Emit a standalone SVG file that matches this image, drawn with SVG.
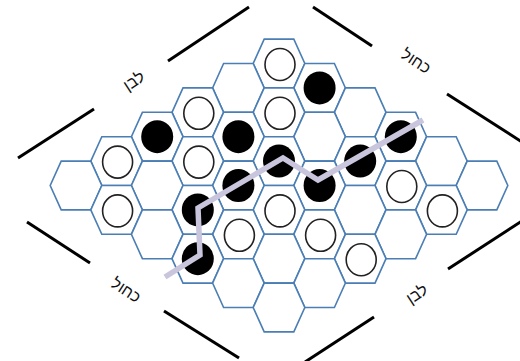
<svg xmlns="http://www.w3.org/2000/svg" xmlns:xlink="http://www.w3.org/1999/xlink" width="520" height="361" viewBox="0 0 520 361">
<style>
.hex{fill:#fff;stroke:#4a7eb4;stroke-width:1.6;stroke-linejoin:miter}
.w{fill:#fff;stroke:#222;stroke-width:1.6}
.b{fill:#000}
.edge{stroke:#000;stroke-width:3;stroke-linecap:butt}
.lbl{font-family:"Liberation Sans","DejaVu Sans",sans-serif;font-size:16px;fill:#111;text-anchor:middle;dominant-baseline:central}
.path{fill:none;stroke:#c8c5dc;stroke-width:5.5;stroke-linejoin:miter}
</style>
<defs>
<polygon id="hex" class="hex" points="-14.8,-24.4 14.8,-24.4 25.8,0 14.8,24.4 -14.8,24.4 -25.8,0"/>
<ellipse id="ws" class="w" cx="1" cy="1" rx="15" ry="16"/>
<ellipse id="bs" class="b" cx="0" cy="0" rx="16" ry="16.5"/>
</defs>
<rect width="520" height="361" fill="#fff"/>
<g id="borders">
<line class="edge" x1="18" y1="158" x2="94" y2="109"/>
<line class="edge" x1="168" y1="61" x2="249" y2="7"/>
<line class="edge" x1="313" y1="7" x2="372" y2="46"/>
<line class="edge" x1="447" y1="94" x2="522" y2="142"/>
<line class="edge" x1="27" y1="222" x2="90" y2="263"/>
<line class="edge" x1="164" y1="311" x2="239" y2="358"/>
<line class="edge" x1="448" y1="269" x2="522" y2="221"/>
<line class="edge" x1="374" y1="317" x2="305" y2="362"/>
</g>
<g id="labels">
<text class="lbl" transform="translate(134,81) rotate(-33)">לבן</text>
<text class="lbl" transform="translate(416,61) rotate(33)">כחול</text>
<text class="lbl" transform="translate(126,290) rotate(33)">כחול</text>
<text class="lbl" transform="translate(417,294) rotate(-33)">לבן</text>
</g>
<g id="board">
<g id="c00" transform="translate(279,63.5)"><use href="#hex"/><use href="#ws"/></g>
<g id="c10" transform="translate(319.6,87.9)"><use href="#hex"/><use href="#bs"/></g>
<g id="c20" transform="translate(360.2,112.3)"><use href="#hex"/></g>
<g id="c30" transform="translate(400.8,136.7)"><use href="#hex"/><use href="#bs"/></g>
<g id="c40" transform="translate(441.4,161.1)"><use href="#hex"/></g>
<g id="c50" transform="translate(482,185.5)"><use href="#hex"/></g>
<g id="c01" transform="translate(238.4,87.9)"><use href="#hex"/></g>
<g id="c11" transform="translate(279,112.3)"><use href="#hex"/><use href="#ws"/></g>
<g id="c21" transform="translate(319.6,136.7)"><use href="#hex"/></g>
<g id="c31" transform="translate(360.2,161.1)"><use href="#hex"/><use href="#bs"/></g>
<g id="c41" transform="translate(400.8,185.5)"><use href="#hex"/><use href="#ws"/></g>
<g id="c51" transform="translate(441.4,209.9)"><use href="#hex"/><use href="#ws"/></g>
<g id="c02" transform="translate(197.8,112.3)"><use href="#hex"/><use href="#ws"/></g>
<g id="c12" transform="translate(238.4,136.7)"><use href="#hex"/><use href="#bs"/></g>
<g id="c22" transform="translate(279,161.1)"><use href="#hex"/><use href="#bs"/></g>
<g id="c32" transform="translate(319.6,185.5)"><use href="#hex"/><use href="#bs"/></g>
<g id="c42" transform="translate(360.2,209.9)"><use href="#hex"/></g>
<g id="c52" transform="translate(400.8,234.3)"><use href="#hex"/></g>
<g id="c03" transform="translate(157.2,136.7)"><use href="#hex"/><use href="#bs"/></g>
<g id="c13" transform="translate(197.8,161.1)"><use href="#hex"/><use href="#ws"/></g>
<g id="c23" transform="translate(238.4,185.5)"><use href="#hex"/><use href="#bs"/></g>
<g id="c33" transform="translate(279,209.9)"><use href="#hex"/><use href="#ws"/></g>
<g id="c43" transform="translate(319.6,234.3)"><use href="#hex"/><use href="#ws"/></g>
<g id="c53" transform="translate(360.2,258.7)"><use href="#hex"/><use href="#ws"/></g>
<g id="c04" transform="translate(116.6,161.1)"><use href="#hex"/><use href="#ws"/></g>
<g id="c14" transform="translate(157.2,185.5)"><use href="#hex"/></g>
<g id="c24" transform="translate(197.8,209.9)"><use href="#hex"/><use href="#bs"/></g>
<g id="c34" transform="translate(238.4,234.3)"><use href="#hex"/><use href="#ws"/></g>
<g id="c44" transform="translate(279,258.7)"><use href="#hex"/></g>
<g id="c54" transform="translate(319.6,283.1)"><use href="#hex"/></g>
<g id="c05" transform="translate(76,185.5)"><use href="#hex"/></g>
<g id="c15" transform="translate(116.6,209.9)"><use href="#hex"/><use href="#ws"/></g>
<g id="c25" transform="translate(157.2,234.3)"><use href="#hex"/></g>
<g id="c35" transform="translate(197.8,258.7)"><use href="#hex"/><use href="#bs"/></g>
<g id="c45" transform="translate(238.4,283.1)"><use href="#hex"/></g>
<g id="c55" transform="translate(279,307.5)"><use href="#hex"/></g>
</g>
<g id="connectors">
<polyline class="path" points="165,277 200,255 198,208 283,158 318,180 423,120"/>
</g>
</svg>
